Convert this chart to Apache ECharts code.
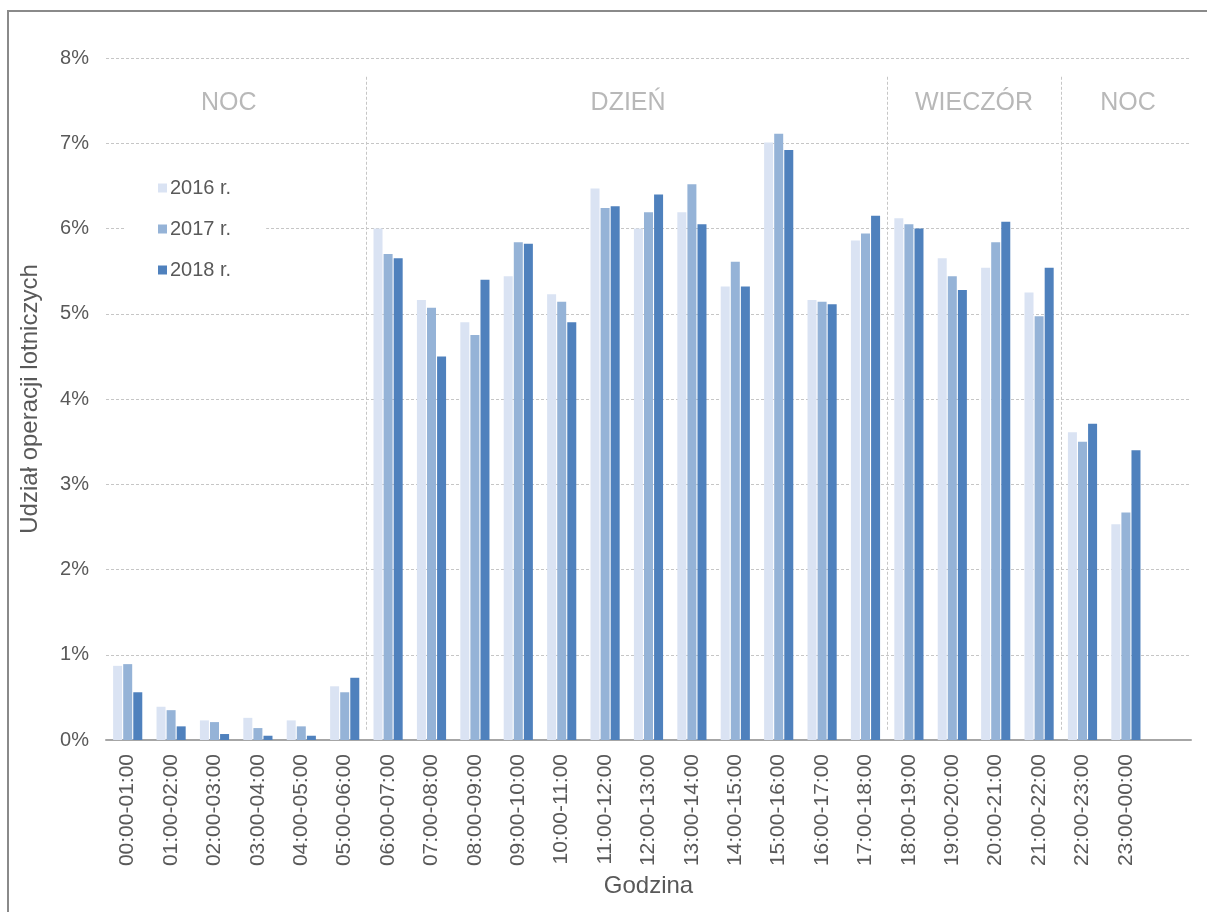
<!DOCTYPE html>
<html>
<head>
<meta charset="utf-8">
<script src="https://cdn.jsdelivr.net/npm/echarts@6/dist/echarts.min.js"></script>
<style>
  html, body { margin: 0; padding: 0; background: #fff; }
  #chart { width: 1207px; height: 912px; }
</style>
</head>
<body>
<div id="chart"></div>
<script>
// Hourly share of air operations, 2016–2018
const hours = [
  '00:00-01:00', '01:00-02:00', '02:00-03:00', '03:00-04:00', '04:00-05:00', '05:00-06:00',
  '06:00-07:00', '07:00-08:00', '08:00-09:00', '09:00-10:00', '10:00-11:00', '11:00-12:00',
  '12:00-13:00', '13:00-14:00', '14:00-15:00', '15:00-16:00', '16:00-17:00', '17:00-18:00',
  '18:00-19:00', '19:00-20:00', '20:00-21:00', '21:00-22:00', '22:00-23:00', '23:00-00:00', ''
];
const seriesNames = ['2016 r.', '2017 r.', '2018 r.'];
const values2016 = [0.87, 0.39, 0.23, 0.26, 0.23, 0.63, 6.00, 5.16, 4.90, 5.44, 5.23, 6.47,
                    6.00, 6.19, 5.32, 7.01, 5.16, 5.86, 6.12, 5.65, 5.54, 5.25, 3.61, 2.53];
const values2017 = [0.89, 0.35, 0.21, 0.14, 0.16, 0.56, 5.70, 5.07, 4.75, 5.84, 5.14, 6.24,
                    6.19, 6.52, 5.61, 7.11, 5.14, 5.94, 6.05, 5.44, 5.84, 4.97, 3.50, 2.67];
const values2018 = [0.56, 0.16, 0.07, 0.05, 0.05, 0.73, 5.65, 4.50, 5.40, 5.82, 4.90, 6.26,
                    6.40, 6.05, 5.32, 6.92, 5.11, 6.15, 6.00, 5.28, 6.08, 5.54, 3.71, 3.40];
const colors = ['#dae3f3', '#95b3d7', '#4f81bd'];

// Parts of the day: boundaries (in hour slots) and their labels
const periodBounds = [6, 18, 22];
const periodNames = ['NOC', 'DZIEŃ', 'WIECZÓR', 'NOC'];
const periodCenters = [2.83, 12.03, 20.0, 23.55];

const font = 'Liberation Sans, Arial, sans-serif';
const textColor = '#595959';
const chart = echarts.init(document.getElementById('chart'));

const barSeries = [values2016, values2017, values2018].map((vals, i) => ({
  name: seriesNames[i],
  type: 'bar',
  data: vals,
  barWidth: 9,
  barGap: '12%',
  itemStyle: { color: colors[i] },
  emphasis: { disabled: true },
  z: 3
}));

chart.setOption({
  animation: false,
  textStyle: { fontFamily: font },
  graphic: [{
    type: 'rect',
    shape: { x: 8, y: 11, width: 1400, height: 1100 },
    style: { fill: 'none', stroke: '#8a8a8a', lineWidth: 2 },
    silent: true
  }],
  legend: {
    orient: 'vertical',
    left: 125,
    top: 168,
    padding: [10, 35, 10, 33],
    backgroundColor: '#ffffff',
    itemWidth: 9,
    itemHeight: 9,
    itemGap: 21,
    icon: 'rect',
    textStyle: { fontSize: 20, lineHeight: 20, color: textColor, fontFamily: font, padding: [0, 0, 0, -2] },
    data: seriesNames,
    z: 10
  },
  grid: { left: 106, right: 16, top: 58, bottom: 172 },
  xAxis: [{
    type: 'category',
    data: hours,
    name: 'Godzina',
    nameLocation: 'middle',
    nameGap: 134,
    nameTextStyle: { fontSize: 24, color: textColor, fontFamily: font },
    axisLine: { lineStyle: { color: '#a6a6a6', width: 2 } },
    axisTick: { show: false },
    axisLabel: { rotate: 90, fontSize: 21, color: textColor, margin: 14, interval: 0, fontFamily: font },
    splitLine: { show: false }
  }, {
    type: 'value',
    min: 0,
    max: 25,
    show: false
  }],
  yAxis: {
    type: 'value',
    min: 0,
    max: 8,
    interval: 1,
    name: 'Udział operacji lotniczych',
    nameLocation: 'middle',
    nameGap: 64,
    nameTextStyle: { fontSize: 24, color: textColor, fontFamily: font },
    axisLine: { show: false },
    axisTick: { show: false },
    axisLabel: { formatter: '{value}%', fontSize: 20, color: textColor, margin: 17, fontFamily: font },
    splitLine: { lineStyle: { color: '#c6c6c6', type: [3, 2], width: 1 } }
  },
  series: barSeries.concat([{
    type: 'scatter',
    xAxisIndex: 1,
    symbolSize: 0,
    silent: true,
    data: periodCenters.map((c, i) => ({ value: [c, 7.47], name: periodNames[i] })),
    label: {
      show: true,
      position: 'inside',
      formatter: p => p.name,
      fontSize: 25,
      color: '#a6a6a6',
      fontFamily: font
    },
    markLine: {
      silent: true,
      symbol: 'none',
      label: { show: false },
      lineStyle: { color: '#c6c6c6', type: [3, 2], width: 1 },
      data: periodBounds.map(b => [{ coord: [b, 0.12] }, { coord: [b, 7.8] }])
    },
    z: 2
  }])
});
</script>
</body>
</html>
